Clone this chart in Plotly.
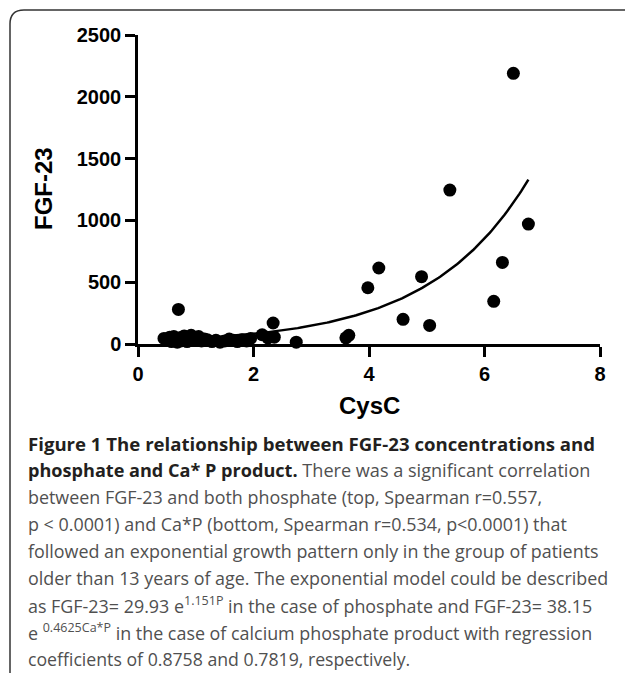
import numpy as np
import plotly.graph_objects as go

# ---- data ----
cysc = [0.45, 0.50, 0.55, 0.58, 0.62, 0.65, 0.68, 0.70, 0.72, 0.74, 0.78, 0.80,
        0.85, 0.88, 0.92, 0.95, 1.00, 1.05, 1.10, 1.15, 1.20, 1.28, 1.35, 1.42,
        1.50, 1.58, 1.65, 1.72, 1.80, 1.88, 1.95, 2.15, 2.25, 2.34, 2.36, 2.74,
        3.60, 3.65, 3.98, 4.17, 4.59, 4.91, 5.05, 5.40, 6.16, 6.31, 6.50, 6.76]
fgf23 = [45, 30, 55, 20, 60, 35, 15, 280, 50, 25, 40, 65,
         20, 55, 70, 30, 45, 60, 25, 40, 35, 20, 30, 15,
         25, 40, 30, 20, 35, 25, 45, 75, 50, 170, 55, 15,
         50, 70, 455, 615, 200, 545, 150, 1245, 345, 660, 2190, 970]

# exponential fit curve parameters (y = a * exp(b * x))
fit_a = 25.5
fit_b = 0.585

x_ticks = [0, 2, 4, 6, 8]
y_ticks = [0, 500, 1000, 1500, 2000, 2500]
x_title = "CysC"
y_title = "FGF-23"

caption_lines = [
    "<b><span style='color:#231f20'>Figure 1 The relationship between FGF-23 concentrations and</span></b>",
    "<b><span style='color:#231f20'>phosphate and Ca* P product.</span></b> There was a significant correlation",
    "between FGF-23 and both phosphate (top, Spearman r=0.557,",
    "p &lt; 0.0001) and Ca*P (bottom, Spearman r=0.534, p&lt;0.0001) that",
    "followed an exponential growth pattern only in the group of patients",
    "older than 13 years of age. The exponential model could be described",
    "as FGF-23= 29.93 e<sup>1.151P</sup> in the case of phosphate and FGF-23= 38.15",
    "e <sup>0.4625Ca*P</sup> in the case of calcium phosphate product with regression",
    "coefficients of 0.8758 and 0.7819, respectively.",
]
caption_sizes = [18.6, 18.1, 17.9, 17.9, 17.9, 17.9, 17.9, 17.9, 17.7]

W, H = 625, 673
L, R, T, B = 138, 25, 35, 329
pw, ph = W - L - R, H - T - B

def px_x(px):
    return (px - L) / pw

def px_y(py):
    return (H - B - py) / ph

xfit = np.linspace(min(cysc), max(cysc), 200)
yfit = fit_a * np.exp(fit_b * xfit)

fig = go.Figure()
fig.add_trace(go.Scatter(x=xfit, y=yfit, mode="lines",
                         line=dict(color="black", width=2.5),
                         hoverinfo="skip", cliponaxis=False))
fig.add_trace(go.Scatter(x=cysc, y=fgf23, mode="markers",
                         marker=dict(color="black", size=13),
                         cliponaxis=False))

fam = "Liberation Sans, Arial, sans-serif"
axfont = dict(family=fam, size=20, color="black", weight="bold")
titlefont = dict(family=fam, size=24, color="black", weight="bold")
common = dict(ticks="outside", ticklen=10, tickwidth=2.5, tickcolor="black",
              showline=True, linewidth=2.5, linecolor="black",
              showgrid=False, zeroline=False, tickfont=axfont, automargin=False)
fig.update_xaxes(range=[0, 8], tickvals=x_ticks, **common)
fig.update_yaxes(range=[0, 2500], tickvals=y_ticks, **common)

annotations = [
    dict(text=x_title, xref="paper", yref="paper", x=px_x(369), y=px_y(405),
         xanchor="center", yanchor="middle", showarrow=False, font=titlefont),
    dict(text=y_title, xref="paper", yref="paper", x=px_x(43), y=px_y(189),
         xanchor="center", yanchor="middle", showarrow=False, font=titlefont,
         textangle=-90),
]
line_y0 = 443
line_dy = 27
for i, txt in enumerate(caption_lines):
    annotations.append(dict(
        text=txt, xref="paper", yref="paper",
        x=px_x(26), y=px_y(line_y0 + i * line_dy),
        xanchor="left", yanchor="middle", showarrow=False, align="left",
        font=dict(family="Open Sans, Noto Sans, sans-serif", size=caption_sizes[i],
                  color="#505050"),
    ))

# rounded frame around the figure panel
x0, y0 = px_x(10), px_y(10)
x1, y1 = px_x(640), px_y(690)
rx = 14 / pw
ry = 14 / ph
frame = (f"M {x1} {y0} L {x0 + rx} {y0} Q {x0} {y0} {x0} {y0 - ry} L {x0} {y1}")

fig.update_layout(
    template="none",
    width=W, height=H,
    margin=dict(l=L, r=R, t=T, b=B, autoexpand=False),
    plot_bgcolor="white", paper_bgcolor="white",
    showlegend=False,
    hovermode=False,
    annotations=annotations,
    shapes=[dict(type="path", path=frame, xref="paper", yref="paper",
                 line=dict(color="#333333", width=1.5))],
)

fig.write_html("out.html", config={"displayModeBar": False},
               post_script="document.body.style.margin='0';")
